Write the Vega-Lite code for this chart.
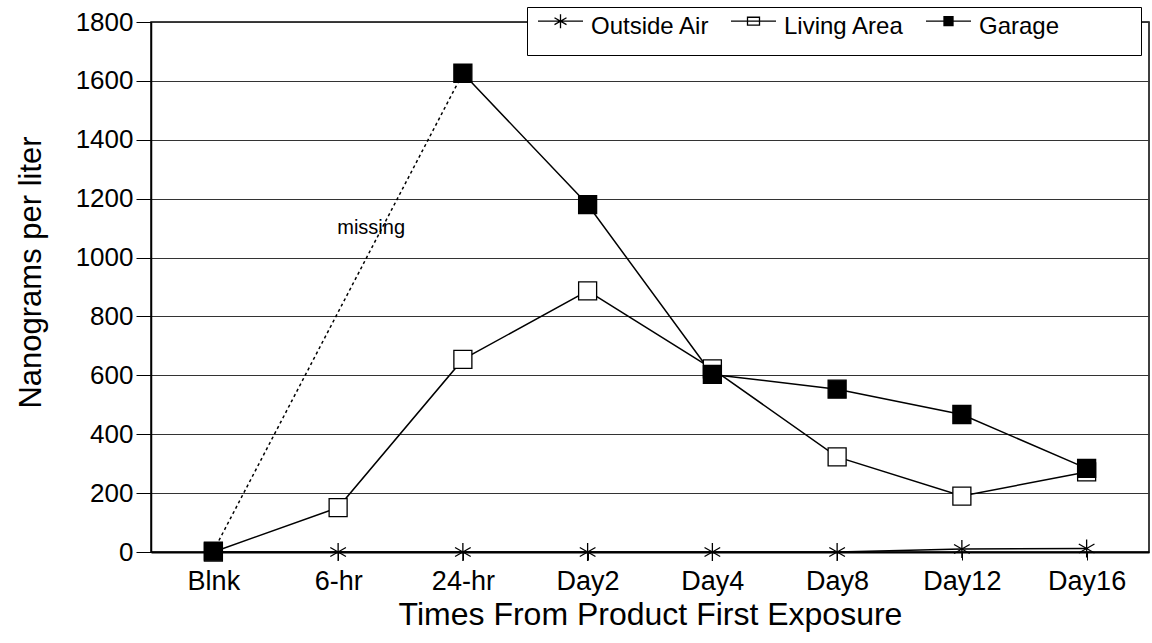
{
  "$schema": "https://vega.github.io/schema/vega-lite/v6.json",
  "width": 998,
  "height": 530,
  "autosize": {"type": "none"},
  "padding": {"left": 151, "top": 22, "right": 3, "bottom": 91},
  "background": "white",
  "config": {
    "font": "Liberation Sans",
    "view": {"stroke": "black", "strokeWidth": 1.5},
    "axis": {"labelColor": "black", "titleColor": "black", "titleFontWeight": "normal", "domainColor": "black", "tickColor": "black"}
  },
  "data": {
    "values": [
      {"time": "Blnk", "series": "Outside Air", "value": 0},
      {"time": "6-hr", "series": "Outside Air", "value": 0},
      {"time": "24-hr", "series": "Outside Air", "value": 0},
      {"time": "Day2", "series": "Outside Air", "value": 0},
      {"time": "Day4", "series": "Outside Air", "value": 0},
      {"time": "Day8", "series": "Outside Air", "value": 0},
      {"time": "Day12", "series": "Outside Air", "value": 10},
      {"time": "Day16", "series": "Outside Air", "value": 12},
      {"time": "Blnk", "series": "Living Area", "value": 0},
      {"time": "6-hr", "series": "Living Area", "value": 151},
      {"time": "24-hr", "series": "Living Area", "value": 654},
      {"time": "Day2", "series": "Living Area", "value": 887},
      {"time": "Day4", "series": "Living Area", "value": 622},
      {"time": "Day8", "series": "Living Area", "value": 323},
      {"time": "Day12", "series": "Living Area", "value": 190},
      {"time": "Day16", "series": "Living Area", "value": 272},
      {"time": "Blnk", "series": "Garage", "value": 3},
      {"time": "24-hr", "series": "Garage", "value": 1626},
      {"time": "Day2", "series": "Garage", "value": 1180},
      {"time": "Day4", "series": "Garage", "value": 603},
      {"time": "Day8", "series": "Garage", "value": 553},
      {"time": "Day12", "series": "Garage", "value": 467},
      {"time": "Day16", "series": "Garage", "value": 284}
    ]
  },
  "encoding": {
    "x": {
      "field": "time", "type": "ordinal", "sort": null,
      "scale": {"type": "point", "padding": 0.5, "domain": ["Blnk", "6-hr", "24-hr", "Day2", "Day4", "Day8", "Day12", "Day16"]},
      "axis": {"title": "Times From Product First Exposure", "labelAngle": 0, "labelFontSize": 27, "titleFontSize": 32, "tickSize": 8, "labelPadding": 8, "titlePadding": 5, "domainWidth": 2, "grid": false}
    },
    "y": {
      "field": "value", "type": "quantitative",
      "scale": {"domain": [0, 1800], "nice": false},
      "axis": {"title": "Nanograms per liter", "format": "d", "values": [0, 200, 400, 600, 800, 1000, 1200, 1400, 1600, 1800], "labelFontSize": 26, "titleFontSize": 31, "tickSize": 15, "labelPadding": 3, "titlePadding": 28, "titleY": 250, "grid": true, "gridColor": "#333", "gridWidth": 1, "domainWidth": 1.5}
    }
  },
  "resolve": {"scale": {"shape": "independent"}, "legend": {"shape": "independent"}},
  "layer": [
    {
      "transform": [{"filter": "datum.series === 'Garage' && (datum.time === 'Blnk' || datum.time === '24-hr')"}],
      "mark": {"type": "line", "color": "black", "strokeWidth": 1.5, "strokeDash": [3, 3]},
      "encoding": {"detail": {"field": "series"}}
    },
    {
      "transform": [{"filter": "!(datum.series === 'Garage' && datum.time === 'Blnk')"}],
      "mark": {"type": "line", "color": "black", "strokeWidth": 1.5},
      "encoding": {"detail": {"field": "series"}}
    },
    {
      "mark": {"type": "point", "size": 324, "stroke": "black", "strokeWidth": 1.3, "opacity": 1, "filled": true},
      "encoding": {
        "shape": {
          "field": "series", "type": "nominal",
          "scale": {"domain": ["Outside Air", "Living Area", "Garage"], "range": ["M0,-1V1M-0.87,-0.5L0.87,0.5M-0.87,0.5L0.87,-0.5", "square", "square"]},
          "legend": null
        },
        "fill": {
          "field": "series", "type": "nominal",
          "scale": {"domain": ["Outside Air", "Living Area", "Garage"], "range": ["transparent", "white", "black"]},
          "legend": null
        }
      }
    },
    {
      "transform": [{"filter": "false"}],
      "mark": {"type": "point", "filled": false, "color": "black", "strokeWidth": 1.3, "opacity": 1},
      "encoding": {
        "shape": {
          "field": "series", "type": "nominal",
          "scale": {"domain": ["Outside Air", "Living Area", "Garage", " "], "range": [
            "M-1.875,-0.5H1.875M0,-1.08V0.08M-0.5,-0.79L0.5,-0.21M-0.5,-0.21L0.5,-0.79M0,1.5",
            "M-1.875,-0.5H1.875M-0.5,-0.83H0.5V-0.17H-0.5ZM0,1.5",
            "M-1.875,-0.5H1.875M-0.375,-0.875H0.375V-0.125H-0.375ZM-0.375,-0.79H0.375M-0.375,-0.71H0.375M-0.375,-0.63H0.375M-0.375,-0.54H0.375M-0.375,-0.46H0.375M-0.375,-0.38H0.375M-0.375,-0.29H0.375M-0.375,-0.21H0.375M0,1.5",
            "M0,1.5"
          ]},
          "legend": {
            "title": null, "orient": "none", "legendX": 376, "legendY": -15, "direction": "horizontal", "columns": 4,
            "strokeColor": "black", "fillColor": "white", "padding": 7,
            "symbolSize": 576, "symbolOffset": 13.5, "labelFontSize": 24, "labelColor": "black", "labelOffset": 17.5, "columnPadding": 17,
            "symbolStrokeColor": "black", "symbolStrokeWidth": 1.3
          }
        }
      }
    },
    {
      "data": {"values": [{"time": "6-hr", "value": 1100, "note": "missing"}]},
      "mark": {"type": "text", "fontSize": 20, "dx": 33, "color": "black", "font": "Liberation Sans"},
      "encoding": {"text": {"field": "note"}}
    }
  ]
}
